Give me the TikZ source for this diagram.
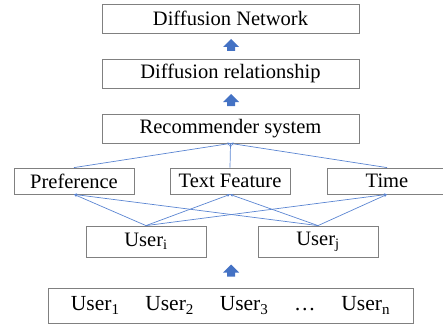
\documentclass[tikz,border=0pt]{standalone}
\usepackage{fontspec}
\setmainfont{Liberation Serif}
\usetikzlibrary{arrows.meta,shapes.arrows}
\usepackage{xcolor}
\definecolor{color4472c4}{HTML}{4472C4}
\definecolor{color5b85d2}{HTML}{5B85D2}
\definecolor{color808080}{HTML}{808080}

\begin{document}
\begin{tikzpicture}
    [x=1pt, y=-1pt,
     >={Stealth[length=3pt, width=3pt]},  % small tips on the thin links
     font=\fontsize{20.5}{23}\selectfont,
     box/.style={rectangle, draw=color808080, line width=0.8pt, inner sep=0pt},
     link/.style={->, draw=color5b85d2, line width=0.7pt},
     uparrow/.style={single arrow, shape border rotate=90, fill=color4472c4, draw=none,
                     inner sep=3.8pt, single arrow head extend=4pt, minimum height=12pt},
    ]
\useasboundingbox (0,0) rectangle (443,326);

\node[box, minimum width=257pt, minimum height=29pt] (node_network) at (230.5,18.5) {Diffusion Network};
\node[box, minimum width=257pt, minimum height=29pt] (node_relation) at (230.5,73.5) {Diffusion relationship};
\node[box, minimum width=257pt, minimum height=29pt] (node_recommender) at (230.5,128.5) {Recommender system};

\node[box, minimum width=120pt, minimum height=26pt] (node_pref) at (74,181) {Preference};
\node[box, minimum width=120pt, minimum height=26pt] (node_text) at (230,181) {Text Feature};
\node[box, minimum width=120pt, minimum height=26pt] (node_time) at (387,181) {Time};

\node[box, minimum width=120pt, minimum height=31pt] (node_useri) at (146,241.5) {User\textsubscript{i}};
\node[box, minimum width=120pt, minimum height=31pt] (node_userj) at (318,241.5) {User\textsubscript{j}};

\node[box, minimum width=365pt, minimum height=35pt, font=\fontsize{21.5}{24}\selectfont] (node_users) at (230.5,305.5)
    {User\textsubscript{1}\hspace{1.2em}User\textsubscript{2}\hspace{1.2em}User\textsubscript{3}\hspace{1.2em}\dots\hspace{1.2em}User\textsubscript{n}};

\node[uparrow] (arrow_a) at (231,47) {};
\node[uparrow] (arrow_b) at (231,102) {};
\node[uparrow] (arrow_c) at (231,272.5) {};

\draw[link] (node_pref.north) -- (node_recommender.south);
\draw[link] (node_text.north) -- (node_recommender.south);
\draw[link] (node_time.north) -- (node_recommender.south);

\draw[link] (node_useri.north) -- (node_pref.south);
\draw[link] (node_useri.north) -- (node_text.south);
\draw[link] (node_useri.north) -- (node_time.south);
\draw[link] (node_userj.north) -- (node_pref.south);
\draw[link] (node_userj.north) -- (node_text.south);
\draw[link] (node_userj.north) -- (node_time.south);

\end{tikzpicture}
\end{document}
